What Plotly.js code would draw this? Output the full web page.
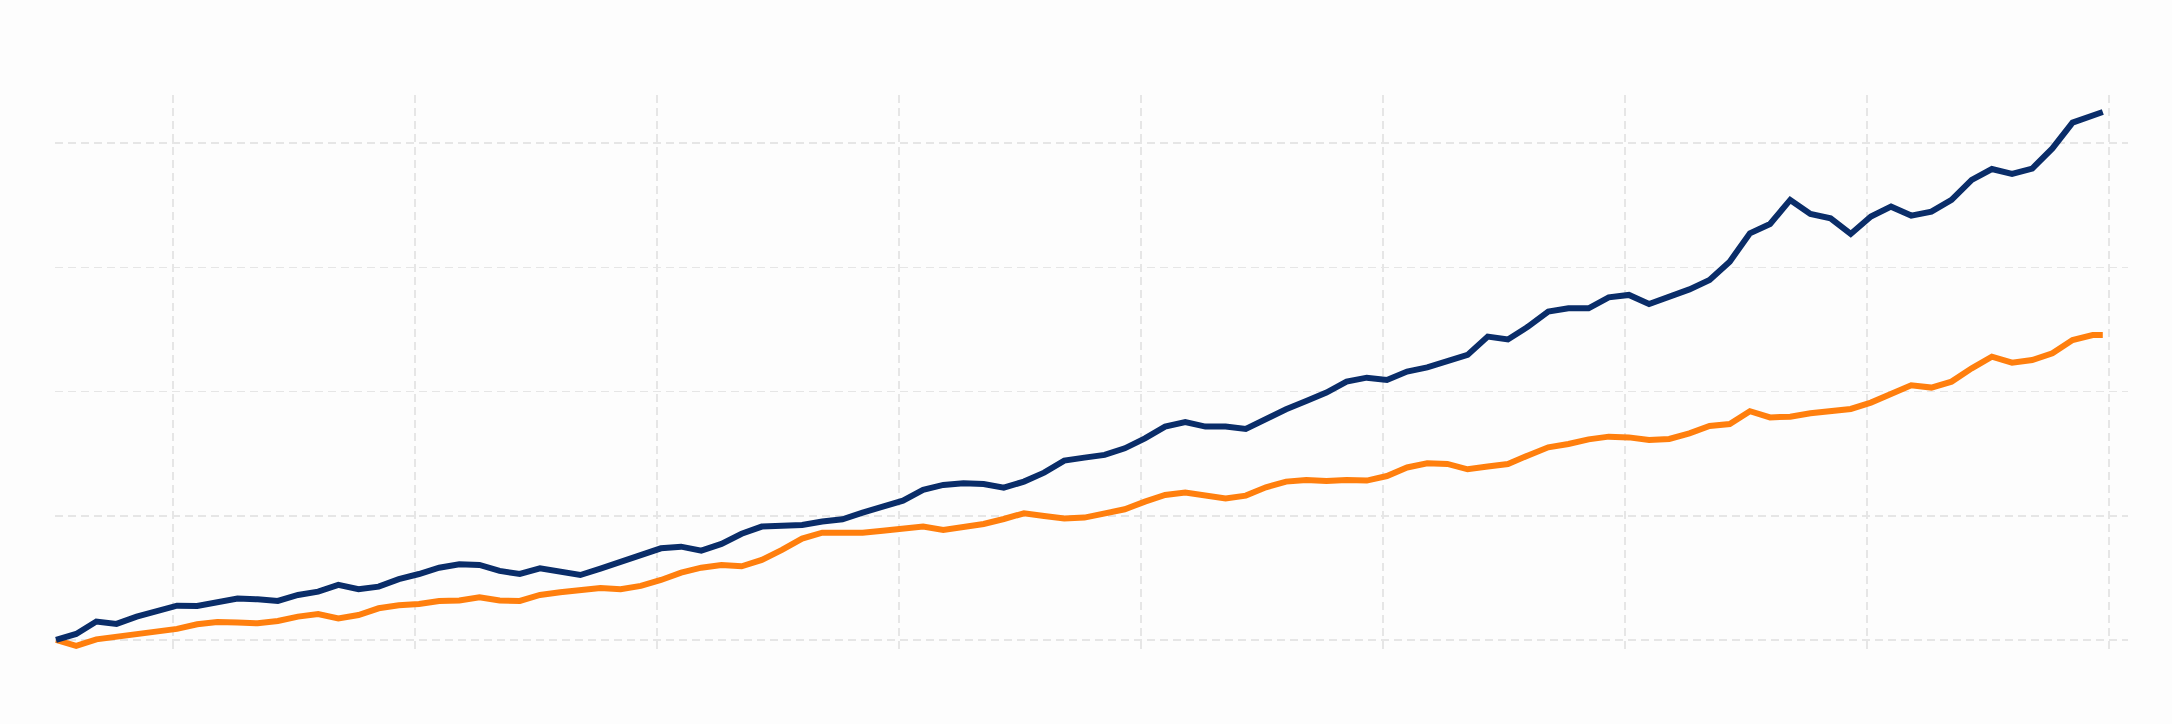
<!DOCTYPE html>
<html>
<head>
<meta charset="utf-8">
<script src="https://cdn.plot.ly/plotly-3.0.1.min.js"></script>
<style>
  html, body { margin: 0; padding: 0; background: #fdfdfd; }
  #chart { width: 2172px; height: 724px; }
</style>
</head>
<body>
<div id="chart"></div>
<script>
// month index from the first observation (every second month, last one is the final month)
const months = [
  0, 2, 4, 6, 8, 10, 12, 14, 16, 18, 20, 22, 24, 26, 28, 30, 32, 34, 36, 38,
  40, 42, 44, 46, 48, 50, 52, 54, 56, 58, 60, 62, 64, 66, 68, 70, 72, 74, 76, 78,
  80, 82, 84, 86, 88, 90, 92, 94, 96, 98, 100, 102, 104, 106, 108, 110, 112, 114, 116, 118,
  120, 122, 124, 126, 128, 130, 132, 134, 136, 138, 140, 142, 144, 146, 148, 150, 152, 154, 156, 158,
  160, 162, 164, 166, 168, 170, 172, 174, 176, 178, 180, 182, 184, 186, 188, 190, 192, 194, 196, 198,
  200, 202, 203
];

// index, start = 100
const navySeries = [
  100.0, 104.8, 114.8, 112.9, 118.8, 123.6, 127.6, 127.4, 130.1, 133.3,
  132.7, 131.4, 136.2, 138.9, 144.3, 140.8, 142.9, 149.0, 153.1, 158.2,
  160.9, 160.4, 155.6, 153.1, 157.7, 155.3, 152.3, 157.4, 163.1, 169.2,
  173.8, 175.1, 171.9, 177.3, 185.5, 191.3, 191.8, 192.6, 195.3, 197.2,
  202.5, 206.8, 212.2, 220.8, 224.8, 226.1, 225.6, 222.6, 227.5, 234.7,
  244.4, 246.8, 249.0, 254.3, 262.3, 271.8, 275.5, 271.8, 271.8, 269.9,
  278.2, 285.7, 292.4, 299.2, 308.0, 311.2, 309.3, 316.1, 319.5, 324.6,
  329.5, 344.3, 342.0, 352.3, 364.4, 367.0, 367.0, 375.9, 377.8, 370.5,
  376.5, 382.3, 389.8, 404.6, 427.4, 434.9, 454.3, 443.0, 439.5, 426.9,
  440.9, 448.9, 441.7, 444.9, 454.3, 470.4, 479.2, 475.2, 479.5, 495.8,
  516.6, 521.9, 525.1
];

const orangeSeries = [
  100.0, 95.2, 100.5, 102.7, 104.3, 106.2, 108.9, 112.6, 114.5, 114.0,
  113.4, 115.3, 118.8, 120.9, 117.4, 120.1, 125.5, 127.9, 129.0, 131.4,
  131.7, 134.4, 131.7, 131.4, 136.2, 138.4, 139.7, 141.9, 140.8, 143.5,
  148.3, 154.2, 158.2, 160.4, 159.3, 164.4, 172.5, 181.6, 186.4, 185.9,
  186.4, 188.0, 189.9, 191.3, 188.6, 190.7, 193.4, 197.4, 202.0, 199.8,
  197.8, 198.5, 201.4, 205.2, 211.4, 216.7, 218.7, 215.9, 214.0, 216.2,
  222.9, 227.5, 228.8, 228.0, 228.8, 228.3, 232.0, 238.9, 242.2, 241.7,
  237.4, 239.6, 241.7, 248.6, 255.1, 257.8, 261.5, 263.7, 263.1, 261.0,
  261.8, 266.4, 272.3, 273.9, 284.2, 279.2, 279.8, 282.5, 284.7, 286.0,
  291.1, 298.6, 305.0, 303.2, 308.0, 318.7, 328.1, 323.3, 325.4, 330.8,
  341.5, 345.5, 345.5
];

// grid positions (every 24 months) and value gridlines
const xGrid = [11.6, 35.6, 59.6, 83.6, 107.6, 131.6, 155.6, 179.6, 203.6];
const yGrid = [100, 200, 300, 400, 500];

const gridStyle = {
  showgrid: true,
  gridcolor: '#e6e6e6',
  gridwidth: 1.5,
  griddash: '8px,5px',
  zeroline: false,
  showline: false,
  ticks: '',
  showticklabels: false,
};

const traces = [
  {
    x: months,
    y: orangeSeries,
    mode: 'lines',
    line: {color: '#ff7f0e', width: 6},
    hoverinfo: 'skip',
  },
  {
    x: months,
    y: navySeries,
    mode: 'lines',
    line: {color: '#0a2d69', width: 6},
    hoverinfo: 'skip',
  },
];

const layout = {
  width: 2172,
  height: 724,
  margin: {l: 55, r: 44, t: 95, b: 73},
  paper_bgcolor: '#fdfdfd',
  plot_bgcolor: '#fdfdfd',
  showlegend: false,
  xaxis: Object.assign({range: [-0.1, 205.5], tickmode: 'array', tickvals: xGrid}, gridStyle),
  yaxis: Object.assign({range: [91.1, 538.8], tickmode: 'array', tickvals: yGrid}, gridStyle),
};

Plotly.newPlot('chart', traces, layout, {displayModeBar: false, staticPlot: true});
</script>
</body>
</html>
